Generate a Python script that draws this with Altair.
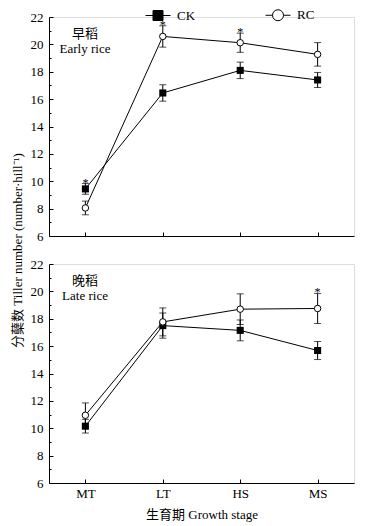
import altair as alt
import pandas as pd

stages = ["MT", "LT", "HS", "MS"]
treatments = ["CK", "RC"]

early_ck = [9.44, 16.45, 18.1, 17.4]
early_ck_err = [0.39, 0.6, 0.6, 0.55]
early_rc = [8.05, 20.58, 20.12, 19.27]
early_rc_err = [0.5, 0.78, 0.7, 0.86]
early_sig = [("CK", "MT"), ("RC", "LT"), ("RC", "HS")]

late_ck = [10.15, 17.5, 17.15, 15.68]
late_ck_err = [0.5, 0.92, 0.76, 0.66]
late_rc = [10.95, 17.77, 18.7, 18.75]
late_rc_err = [0.9, 1.02, 1.12, 1.1]
late_sig = [("RC", "MS")]

early_label = "早稻\nEarly rice"
late_label = "晚稻\nLate rice"
y_title = "分蘖数 Tiller number (number·hill⁻¹)"
x_title = "生育期 Growth stage"

SERIF = "Liberation Serif, Noto Sans CJK SC"
W, H = 305, 219


def make_df(ck, ck_err, rc, rc_err, sig):
    rows = []
    for trt, m, e in (("CK", ck, ck_err), ("RC", rc, rc_err)):
        for s, v, er in zip(stages, m, e):
            rows.append({"stage": s, "trt": trt, "mean": v, "err": er,
                         "lo": v - er, "hi": v + er,
                         "sig": (trt, s) in sig})
    return pd.DataFrame(rows)


CK_PATH = "M-1,0H1M-0.4,-0.4H0.4V0.4H-0.4Z"
RC_PATH = ("M-1,0H-0.44M0.44,0H1M-0.44,0A0.44,0.44,0,1,1,0.44,0"
           "A0.44,0.44,0,1,1,-0.44,0Z")


def legend_def():
    return alt.Legend(title=None, orient="none", legendX=96, legendY=-15,
                      direction="horizontal", symbolSize=625,
                      symbolStrokeWidth=1,
                      labelFont=SERIF, labelFontSize=13, labelColor="black",
                      labelOffset=6, columnPadding=67, padding=0)


def panel(df, label, top):
    xsc = alt.Scale(domain=stages, type="point", padding=0.47)
    ysc = alt.Scale(domain=[6, 22], nice=False, zero=False)
    base = alt.Chart(df)

    x_main = alt.X("stage:N", scale=xsc, sort=stages, axis=alt.Axis(
        title=None if top else x_title, labels=not top, ticks=False,
        domain=True, domainColor="black", labelAngle=0, labelFontSize=13,
        labelFont=SERIF, labelColor="black", labelPadding=4,
        titleFont=SERIF, titleFontSize=13, titleFontWeight="normal",
        titleColor="black", titlePadding=8, grid=False))
    y_main = alt.Y("lo:Q", scale=ysc, axis=alt.Axis(
        values=list(range(6, 23, 2)), ticks=False, domainColor="black",
        labelFont=SERIF, labelFontSize=13, labelColor="black",
        labelPadding=6, grid=False,
        title=y_title if top else None, titleFont=SERIF, titleFontSize=13,
        titleFontWeight="normal", titleColor="black",
        **({"titleY": 233, "titleX": -25} if top else {})))

    err_rule = base.mark_rule(color="black", strokeWidth=1).encode(
        x=x_main, y=y_main, y2="hi:Q")

    x_tk = alt.X("stage:N", scale=xsc, sort=stages, axis=alt.Axis(
        orient="top", offset=-H, labels=False, domain=False, ticks=True,
        tickSize=4, tickColor="black", title=None, grid=False))
    y_tk = alt.Y("lo:Q", scale=ysc, axis=alt.Axis(
        orient="right", offset=-W, labels=False, domain=False,
        values=list(range(6, 23)), tickColor="black",
        tickSize={"condition": {"test": "datum.value % 2 == 0", "value": 4},
                  "value": 2},
        title=None, grid=False))
    cap_lo = base.mark_tick(color="black", thickness=1, size=7).encode(
        x=x_tk, y=y_tk)

    xs = alt.X("stage:N", scale=xsc, sort=stages, axis=None)

    def ys(f):
        return alt.Y(f, scale=ysc, axis=None)

    cap_hi = base.mark_tick(color="black", thickness=1, size=7).encode(
        x=xs, y=ys("hi:Q"))
    line = base.mark_line(color="black", strokeWidth=1).encode(
        x=xs, y=ys("mean:Q"), detail="trt:N")
    sq = base.transform_filter(alt.datum.trt == "CK").mark_square(
        color="black", size=50, opacity=1).encode(x=xs, y=ys("mean:Q"))
    circ = base.transform_filter(alt.datum.trt == "RC").mark_point(
        shape="circle", filled=True, fill="white", stroke="black",
        strokeWidth=1, size=42, opacity=1).encode(x=xs, y=ys("mean:Q"))
    star = base.transform_filter(alt.datum.sig).mark_text(
        text="*", fontSize=12, font=SERIF, color="black",
        baseline="alphabetic", dy=3).encode(x=xs, y=ys("hi:Q"))

    lab = alt.Chart(pd.DataFrame({"t": [label]})).mark_text(
        font=SERIF, fontSize=13, color="black", lineBreak="\n",
        lineHeight=15, align="center", baseline="middle").encode(
        text="t:N", x=alt.value(36), y=alt.value(17))

    layers = [err_rule, cap_lo, cap_hi, line, sq, circ, star, lab]

    if top:
        leg = alt.Chart(pd.DataFrame({"trt": treatments})).transform_filter(
            "false").mark_point(size=625, strokeWidth=1, opacity=1).encode(
            shape=alt.Shape("trt:N", scale=alt.Scale(
                domain=treatments, range=[CK_PATH, RC_PATH]),
                legend=legend_def()),
            fill=alt.Fill("trt:N", scale=alt.Scale(
                domain=treatments, range=["black", "white"]),
                legend=legend_def()),
            stroke=alt.Stroke("trt:N", scale=alt.Scale(
                domain=treatments, range=["black", "black"]),
                legend=legend_def()))
        layers.append(leg)

    return alt.layer(*layers).resolve_axis(
        x="independent", y="independent").properties(width=W, height=H)


top_chart = panel(make_df(early_ck, early_ck_err, early_rc, early_rc_err,
                          early_sig), early_label, True)
bot_chart = panel(make_df(late_ck, late_ck_err, late_rc, late_rc_err,
                          late_sig), late_label, False)

chart = alt.vconcat(top_chart, bot_chart, spacing=28, bounds="flush").properties(
    padding={"left": 2, "top": -6, "right": 0, "bottom": 0}
).configure_view(stroke=None).configure(background="white")

chart.save("out.html", embed_options={"renderer": "svg", "actions": False})
